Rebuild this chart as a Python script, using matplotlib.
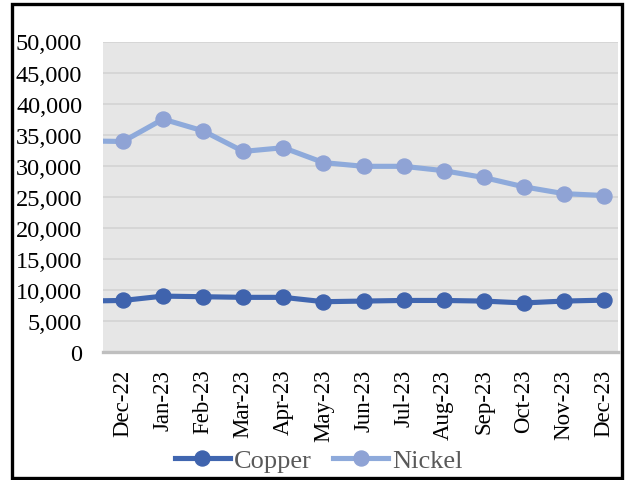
import matplotlib
matplotlib.use("Agg")
import matplotlib.pyplot as plt
from matplotlib.patches import Rectangle
from matplotlib.ticker import FuncFormatter

# months shown on the axis; the first entry (Nov-22) sits just off the left edge
months = ["Nov-22", "Dec-22", "Jan-23", "Feb-23", "Mar-23", "Apr-23", "May-23",
          "Jun-23", "Jul-23", "Aug-23", "Sep-23", "Oct-23", "Nov-23", "Dec-23"]
copper = [8200, 8300, 9000, 8900, 8800, 8800, 8100, 8200, 8300, 8300, 8200, 7900, 8200, 8350]
nickel = [34000, 33900, 37500, 35600, 32300, 32900, 30500, 29900, 29900, 29200, 28100, 26600, 25500, 25200]

plt.rcParams['font.family'] = ['Liberation Serif', 'DejaVu Serif']

fig = plt.figure(figsize=(6.25, 4.81), dpi=100)
ax = fig.add_axes([103/625, 1 - 353/481, (618-103)/625, (353-42.5)/481])
ax.set_facecolor("#e6e6e6")

x = list(range(-1, len(months) - 1))
ax.plot(x, copper, "-o", color="#4066b0", mfc="#3f63ad", mec="#3f63ad",
        lw=3.7, ms=10.8, label="Copper", zorder=3)
ax.plot(x, nickel, "-o", color="#8eaadb", mfc="#8fa3d5", mec="#8fa3d5",
        lw=3.7, ms=10.8, label="Nickel", zorder=3)

ax.set_xlim(-0.5, 12.35)
ax.set_ylim(0, 50000)
ax.set_yticks(range(0, 50001, 5000))
ax.yaxis.set_major_formatter(FuncFormatter(lambda v, p: f"{int(v):,}"))
ax.set_xticks(x[1:])
ax.set_xticklabels(months[1:], rotation=90, fontsize=16.5)
ax.tick_params(axis="y", labelsize=17.5, length=0, pad=15)
ax.tick_params(axis="x", length=0, pad=12)
ax.grid(axis="y", color="#d6d6d6", lw=1.4, zorder=0)
ax.set_axisbelow(True)
for s in ["top", "right", "left"]:
    ax.spines[s].set_visible(False)
ax.spines["bottom"].set_color("#bfbfbf")
ax.spines["bottom"].set_linewidth(2.4)

leg = fig.legend(loc="center", bbox_to_anchor=(0.51, 1 - 461/481), ncol=2,
                 frameon=False, fontsize=19, handlelength=2.1, handletextpad=0.15,
                 columnspacing=0.8, borderpad=0)
for t in leg.get_texts():
    t.set_color("#595959")

# black frame around the whole chart
fig.patches.append(Rectangle((12/625, 2/481), (622-12)/625, (476-2)/481,
                             transform=fig.transFigure, fill=False,
                             edgecolor="black", lw=2.4))

fig.savefig("out.png", dpi=100)
